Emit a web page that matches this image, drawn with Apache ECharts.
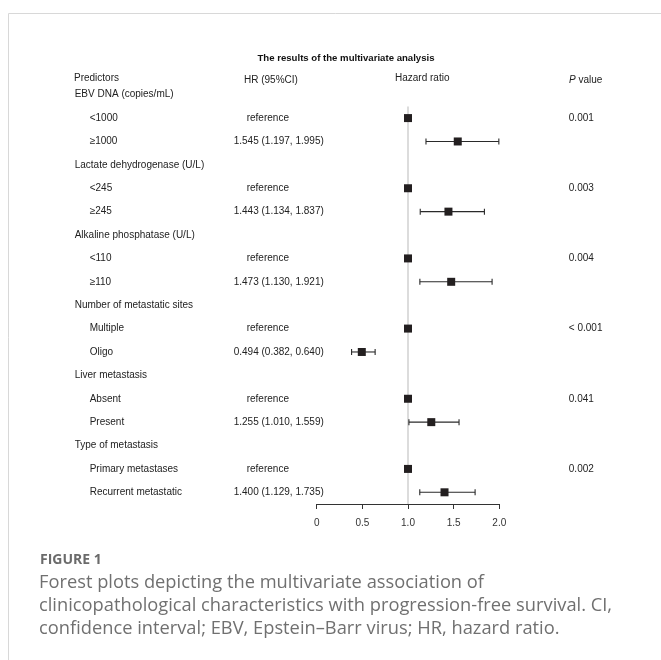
<!DOCTYPE html>
<html>
<head>
<meta charset="utf-8">
<script src="https://cdn.jsdelivr.net/npm/echarts@6/dist/echarts.min.js"></script>
<style>
html,body{margin:0;padding:0;background:#fff;}
#chart{width:661px;height:660px;}
</style>
</head>
<body>
<div id="chart"></div>
<script>
// ---- data ----
const rowLabels = [
  'EBV DNA (copies/mL)', '<1000', '≥1000',
  'Lactate dehydrogenase (U/L)', '<245', '≥245',
  'Alkaline phosphatase (U/L)', '<110', '≥110',
  'Number of metastatic sites', 'Multiple', 'Oligo',
  'Liver metastasis', 'Absent', 'Present',
  'Type of metastasis', 'Primary metastases', 'Recurrent metastatic'
];
const rowIsHeader = [true,false,false, true,false,false, true,false,false, true,false,false, true,false,false, true,false,false];
const hrValue = [null,1,1.545, null,1,1.443, null,1,1.473, null,1,0.494, null,1,1.255, null,1,1.400];
const ciLower = [null,null,1.197, null,null,1.134, null,null,1.130, null,null,0.382, null,null,1.010, null,null,1.129];
const ciUpper = [null,null,1.995, null,null,1.837, null,null,1.921, null,null,0.640, null,null,1.559, null,null,1.735];
const hrText = [
  '', 'reference', '1.545 (1.197, 1.995)',
  '', 'reference', '1.443 (1.134, 1.837)',
  '', 'reference', '1.473 (1.130, 1.921)',
  '', 'reference', '0.494 (0.382, 0.640)',
  '', 'reference', '1.255 (1.010, 1.559)',
  '', 'reference', '1.400 (1.129, 1.735)'
];
const pText = ['', '0.001', '', '', '0.003', '', '', '0.004', '', '', '< 0.001', '', '', '0.041', '', '', '0.002', ''];
const xTickLabels = ['0', '0.5', '1.0', '1.5', '2.0'];
const refValue = 1;
const titleText = 'The results of the multivariate analysis';
const headerTexts = ['Predictors', 'HR (95%CI)', 'Hazard ratio', 'P value'];
const captionHead = 'FIGURE 1';
const captionLines = [
  'Forest plots depicting the multivariate association of',
  'clinicopathological characteristics with progression-free survival. CI,',
  'confidence interval; EBV, Epstein\u2013Barr virus; HR, hazard ratio.'
];

// ---- build ----
const FONT = "'Liberation Sans', Arial, Helvetica, sans-serif";
const CAPFONT = "'Open Sans', 'Noto Sans', sans-serif";
const TXT = '#222';

const boxData = [];
const ciData = [];
hrValue.forEach((v, i) => { if (v != null) boxData.push([v, i]); });
ciLower.forEach((v, i) => { if (v != null) ciData.push([v, ciUpper[i], i]); });
// reference line: from the boundary above the first level row down to the axis
const refData = [[refValue, 1, rowLabels.length - 1]];

const chart = echarts.init(document.getElementById('chart'));

const catAxisBase = {
  type: 'category',
  data: rowLabels,
  inverse: true,
  boundaryGap: true,
  axisLine: {show: false},
  axisTick: {show: false},
  splitLine: {show: false}
};

chart.setOption({
  animation: false,
  backgroundColor: '#fff',
  grid: {left: 316.7, right: 161.7, top: 83, bottom: 156, containLabel: false},
  xAxis: {
    type: 'value',
    min: 0, max: 2, interval: 0.5,
    axisLine: {show: true, lineStyle: {color: '#333', width: 1}},
    axisTick: {show: true, length: 5, lineStyle: {color: '#333', width: 1}},
    splitLine: {show: false},
    axisLabel: {
      margin: 14, color: '#333', fontSize: 10, fontFamily: FONT,
      formatter: v => xTickLabels[Math.round(v / 0.5)]
    }
  },
  yAxis: [
    Object.assign({}, catAxisBase, {
      position: 'left',
      axisLabel: {
        interval: 0, align: 'left', margin: 242, color: TXT, fontSize: 10, fontFamily: FONT,
        formatter: (v, i) => rowIsHeader[i] ? '{h|' + v + '}' : '{l|' + v + '}',
        rich: {
          h: {fontSize: 10, fontFamily: FONT, color: TXT},
          l: {fontSize: 10, fontFamily: FONT, color: TXT, padding: [0, 0, 0, 15]}
        }
      }
    }),
    Object.assign({}, catAxisBase, {
      position: 'left',
      axisLabel: {
        interval: 0, align: 'left', margin: 83, color: TXT, fontSize: 10, fontFamily: FONT,
        formatter: (v, i) => hrText[i] === 'reference' ? '{r|' + hrText[i] + '}' : '{n|' + hrText[i] + '}',
        rich: {
          r: {fontSize: 10, fontFamily: FONT, color: TXT, padding: [0, 0, 0, 13]},
          n: {fontSize: 10, fontFamily: FONT, color: TXT}
        }
      }
    }),
    Object.assign({}, catAxisBase, {
      position: 'right',
      axisLabel: {
        interval: 0, align: 'left', margin: 69.5, color: TXT, fontSize: 10, fontFamily: FONT,
        formatter: (v, i) => pText[i]
      }
    })
  ],
  series: [
    {
      type: 'custom',
      name: 'reference line',
      yAxisIndex: 0,
      data: refData,
      encode: {x: 0, y: [1, 2]},
      z: 1,
      renderItem: function (params, api) {
        const top = api.coord([api.value(0), api.value(1)]);
        const bot = api.coord([api.value(0), api.value(2)]);
        const band = api.size([0, 1])[1];
        return {
          type: 'line',
          shape: {x1: top[0], y1: top[1] - band / 2, x2: bot[0], y2: bot[1] + band / 2},
          style: {stroke: '#d0d0d0', lineWidth: 1.5}
        };
      }
    },
    {
      type: 'custom',
      name: 'CI',
      yAxisIndex: 0,
      data: ciData,
      encode: {x: [0, 1], y: 2},
      z: 2,
      renderItem: function (params, api) {
        const lo = api.coord([api.value(0), api.value(2)]);
        const hi = api.coord([api.value(1), api.value(2)]);
        const h = 3;
        const st = {stroke: '#2a2a2a', lineWidth: 1.1};
        return {
          type: 'group',
          children: [
            {type: 'line', shape: {x1: lo[0], y1: lo[1], x2: hi[0], y2: hi[1]}, style: st},
            {type: 'line', shape: {x1: lo[0], y1: lo[1] - h, x2: lo[0], y2: lo[1] + h}, style: st},
            {type: 'line', shape: {x1: hi[0], y1: hi[1] - h, x2: hi[0], y2: hi[1] + h}, style: st}
          ]
        };
      }
    },
    {
      type: 'scatter',
      name: 'HR',
      yAxisIndex: 0,
      data: boxData,
      symbol: 'rect',
      symbolSize: 8,
      z: 3,
      itemStyle: {color: '#231f20', opacity: 1}
    }
  ],
  graphic: [
    {type: 'rect', silent: true, z: -1, shape: {x: 8.5, y: 13.5, width: 900, height: 900},
     style: {fill: 'none', stroke: '#d8d8d8', lineWidth: 1}},
    {type: 'text', x: 346, y: 58, style: {text: titleText, align: 'center', verticalAlign: 'middle',
      font: 'bold 9.6px ' + FONT, fill: '#111'}},
    {type: 'text', x: 74, y: 78, style: {text: headerTexts[0], verticalAlign: 'middle', font: '10px ' + FONT, fill: TXT}},
    {type: 'text', x: 244, y: 80, style: {text: headerTexts[1], verticalAlign: 'middle', font: '10px ' + FONT, fill: TXT}},
    {type: 'text', x: 395, y: 78, style: {text: headerTexts[2], verticalAlign: 'middle', font: '10px ' + FONT, fill: TXT}},
    {type: 'text', x: 569, y: 80, style: {
      text: '{i|' + headerTexts[3].slice(0, 1) + '}' + headerTexts[3].slice(1), verticalAlign: 'middle',
      font: '10px ' + FONT, fill: TXT,
      rich: {i: {fontStyle: 'italic', fontSize: 10, fontFamily: FONT, fill: TXT}}}},
    {type: 'text', x: 40, y: 560, style: {text: captionHead, verticalAlign: 'middle',
      font: 'bold 14px ' + CAPFONT, fill: '#6b6b6b'}},
    {type: 'text', x: 39, y: 583, style: {text: captionLines[0], verticalAlign: 'middle', font: '18.3px ' + CAPFONT, fill: '#707070'}},
    {type: 'text', x: 39, y: 606, style: {text: captionLines[1], verticalAlign: 'middle', font: '18.3px ' + CAPFONT, fill: '#707070'}},
    {type: 'text', x: 39, y: 629, style: {text: captionLines[2], verticalAlign: 'middle', font: '18.3px ' + CAPFONT, fill: '#707070'}}
  ]
});
</script>
</body>
</html>
